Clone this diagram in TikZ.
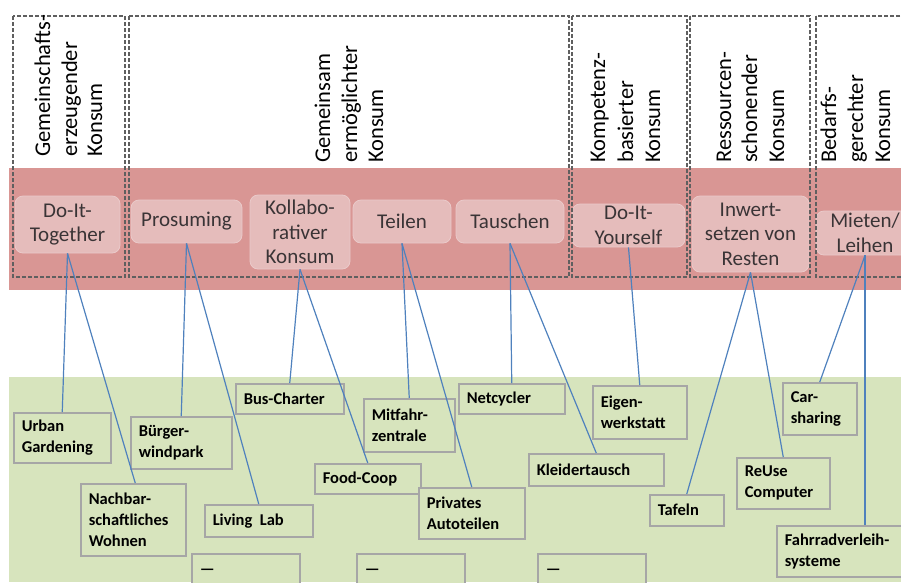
\documentclass[tikz,border=0pt]{standalone}
\usepackage{fontspec}
\usetikzlibrary{calc}
\setmainfont{Carlito}
\hyphenpenalty=10000
\exhyphenpenalty=10000
\definecolor{bandred}{HTML}{D99694}
\definecolor{bandgreen}{HTML}{D7E4BD}
\definecolor{pinkbox}{HTML}{E5BCBB}
\definecolor{pinkedge}{HTML}{EACACA}
\definecolor{pinktext}{HTML}{3A3436}
\definecolor{linkblue}{HTML}{4F81BD}
\definecolor{dashgray}{HTML}{5F5F5F}
\definecolor{leafgray}{HTML}{A6A6A6}
\begin{document}
\begin{tikzpicture}[x=1pt,y=-1pt,
  title/.style={rotate=90, anchor=base west, inner sep=0pt, font=\fontsize{22.5}{27}\selectfont},
  catbox/.style={draw=pinkedge, fill=pinkbox, rounded corners=8pt, line width=0.8pt, align=center,
    text=pinktext, font=\fontsize{21}{24.5}\selectfont, inner sep=0pt},
  leaf/.style={draw=leafgray, fill=bandgreen, line width=1.5pt, anchor=north west, align=left,
    font=\bfseries\fontsize{16.5}{21}\selectfont, inner xsep=8pt, inner ysep=0pt},
  link/.style={draw=linkblue, line width=1.2pt},
  groupbox/.style={draw=dashgray, line width=1.1pt, dash pattern=on 4pt off 2pt}
]
\useasboundingbox (0,0) rectangle (901,582);
% bands
\fill[bandred] (9,168) rectangle (901,290);
\fill[bandgreen] (9,377) rectangle (901,582);

% category boxes
\node[catbox, minimum width=105pt, minimum height=57pt] (dit) at (67.5,224.5) {Do-It-\\Together};
\node[catbox, minimum width=111pt, minimum height=43pt] (pro) at (186.5,221.5) {Prosuming};
\node[catbox, minimum width=100pt, minimum height=74pt] (kol) at (300,232) {Kollabo-\\rativer\\Konsum};
\node[catbox, minimum width=98pt, minimum height=43pt] (tei) at (402,221.5) {Teilen};
\node[catbox, minimum width=108pt, minimum height=43pt] (tau) at (510,221.5) {Tauschen};
\node[catbox, minimum width=113pt, minimum height=43pt] (diy) at (628.5,225.5) {Do-It-\\Yourself};
\node[catbox, minimum width=117pt, minimum height=76pt] (inw) at (750.5,234) {Inwert-\\setzen von\\Resten};
\node[catbox, minimum width=98pt, minimum height=44pt] (mie) at (865,233) {Mieten/\\Leihen};

% dashed group frames
\draw[groupbox] (13,16) rectangle (125,277);
\draw[groupbox] (129,16) rectangle (569,277);
\draw[groupbox] (572,16) rectangle (687,277);
\draw[groupbox] (690,16) rectangle (810,277);
\draw[groupbox] (816,16) rectangle (912,277);

% vertical titles
\node[title] (t1a) at (50,157) {Gemeinschafts-};
\node[title] (t1b) at (77,157) {erzeugender};
\node[title] (t1c) at (102,157) {Konsum};
\node[title] (t2a) at (330,163) {Gemeinsam};
\node[title] (t2b) at (357,163) {ermöglichter};
\node[title] (t2c) at (383,163) {Konsum};
\node[title] (t3a) at (605,163) {Kompetenz-};
\node[title] (t3b) at (633,163) {basierter};
\node[title] (t3c) at (660,163) {Konsum};
\node[title] (t4a) at (731,163) {Ressourcen-};
\node[title] (t4b) at (757,163) {schonender};
\node[title] (t4c) at (784,163) {Konsum};
\node[title] (t5a) at (836,163) {Bedarfs-};
\node[title] (t5b) at (863,163) {gerechter};
\node[title] (t5c) at (890,163) {Konsum};

% example boxes
\node[leaf, text width=81pt, minimum height=50pt] (ug) at (13,412) {Urban\\Gardening};
\node[leaf, text width=85pt, minimum height=52pt] (bw) at (130,416) {Bürger-\\windpark};
\node[leaf, text width=89pt, minimum height=72pt] (nw) at (80,483) {Nachbar-\\schaftliches\\Wohnen};
\node[leaf, text width=92pt, minimum height=32pt] (ll) at (204,504) {Living\hspace{2pt} Lab};
\node[leaf, text width=92pt, minimum height=36pt] (d1) at (191,553) {\textemdash};
\node[leaf, text width=92pt, minimum height=30pt] (bc) at (235,383) {Bus-Charter};
\node[leaf, text width=75pt, minimum height=53pt] (mz) at (363,398) {Mitfahr-\\zentrale};
\node[leaf, text width=90pt, minimum height=30pt] (fc) at (314,463) {Food-Coop};
\node[leaf, text width=90pt, minimum height=51pt] (pa) at (418,487) {Privates\\Autoteilen};
\node[leaf, text width=92pt, minimum height=36pt] (d2) at (356,553) {\textemdash};
\node[leaf, text width=90pt, minimum height=30pt] (nc) at (458,383) {Netcycler};
\node[leaf, text width=119pt, minimum height=32pt] (kt) at (528,453) {Kleidertausch};
\node[leaf, text width=78pt, minimum height=53pt] (ew) at (592,385) {Eigen-\\werkstatt};
\node[leaf, text width=92pt, minimum height=36pt] (d3) at (537,553) {\textemdash};
\node[leaf, text width=58pt, minimum height=31pt] (tf) at (649,494) {Tafeln};
\node[leaf, text width=77pt, minimum height=51pt] (rc) at (736,457) {ReUse\\Computer};
\node[leaf, text width=58pt, minimum height=52pt] (cs) at (782,382) {Car-\\sharing};
\node[leaf, text width=110pt, minimum height=51pt] (fv) at (776,525) {Fahrradverleih-\\systeme};

% connectors
\draw[link] (dit.south) -- (ug.north);
\draw[link] (dit.south) -- ($(nw.north)+(2,0)$);
\draw[link] (pro.south) -- (bw.north);
\draw[link] (pro.south) -- (ll.north);
\draw[link] (kol.south) -- (bc.north);
\draw[link] (kol.south) -- (fc.north);
\draw[link] (tei.south) -- (mz.north);
\draw[link] (tei.south) -- (pa.north);
\draw[link] (tau.south) -- (nc.north);
\draw[link] (tau.south) -- (kt.north);
\draw[link] (diy.south) -- (ew.north);
\draw[link] (inw.south) -- (tf.north);
\draw[link] (inw.south) -- (rc.north);
\draw[link] (mie.south) -- (cs.north);
\draw[link] (mie.south) -- (mie.south |- fv.north);
\end{tikzpicture}
\end{document}
